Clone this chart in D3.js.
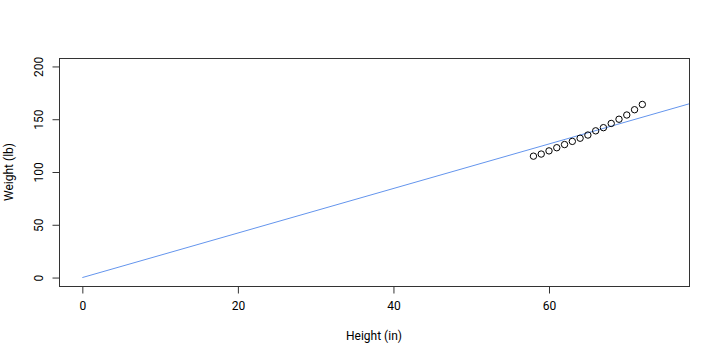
<!DOCTYPE html>
<html><head><meta charset="utf-8">
<script src="https://cdn.jsdelivr.net/npm/d3@7"></script>
<style>body{margin:0;background:#fff}text{font-family:Roboto,Arial,sans-serif;font-size:12px;fill:#000}</style>
</head><body><svg id="c" width="720" height="360"></svg>
<script>
const heights = [58,59,60,61,62,63,64,65,66,67,68,69,70,71,72];
const weights = [115,117,120,123,126,129,132,135,139,142,146,150,154,159,164];
const slope = 2.1095;
const xTicks = [0,20,40,60];
const yTicks = [0,50,100,150,200];
const xLabel = "Height (in)";
const yLabel = "Weight (lb)";

const L=59,R=689,T=58,B=286;
const svg=d3.select("#c");
const x=d3.scaleLinear().domain([-3,78]).range([L,R]);
const y=d3.scaleLinear().domain([-8,208]).range([B,T]);

svg.append("clipPath").attr("id","clip").append("rect").attr("x",L).attr("y",T).attr("width",R-L).attr("height",B-T);

svg.append("line").attr("clip-path","url(#clip)")
 .attr("x1",x(0)).attr("y1",y(0)).attr("x2",x(90)).attr("y2",y(90*slope))
 .attr("stroke","#6495ED").attr("stroke-width",1);

svg.append("g").selectAll("circle").data(heights).join("circle")
 .attr("cx",(d)=>x(d)).attr("cy",(d,i)=>y(weights[i])).attr("r",3.2)
 .attr("fill","none").attr("stroke","#000").attr("stroke-width",1);

svg.append("rect").attr("x",L+0.5).attr("y",T+0.5).attr("width",R-L).attr("height",B-T)
 .attr("fill","none").attr("stroke","#333");

const xa=svg.append("g").attr("transform",`translate(0,${B+0.5})`)
 .call(d3.axisBottom(x).tickValues(xTicks).tickSize(7).tickPadding(8).tickFormat(d3.format("d")));
xa.select(".domain").attr("d",`M${x(0)},0H${x(60)}`).attr("stroke","#333");
xa.selectAll(".tick line").attr("stroke","#333");
xa.selectAll("text").style("font-size","12px").attr("fill","#000");

const ya=svg.append("g").attr("transform",`translate(${L+0.5},0)`)
 .call(d3.axisLeft(y).tickValues(yTicks).tickSize(7).tickFormat(d3.format("d")));
ya.select(".domain").attr("d",`M0,${y(0)}V${y(200)}`).attr("stroke","#333");
ya.selectAll(".tick line").attr("stroke","#333");
ya.selectAll(".tick text").attr("transform","rotate(-90)").attr("x",0).attr("y",-15)
 .attr("dy","0").attr("text-anchor","middle").style("font-size","12px").attr("fill","#000");
ya.selectAll(".tick text").attr("dy","-0.1em");

svg.append("text").attr("x",(L+R)/2).attr("y",340).attr("text-anchor","middle").text(xLabel);
svg.append("text").attr("transform",`translate(13,${(T+B)/2}) rotate(-90)`).attr("text-anchor","middle").text(yLabel);
</script></body></html>
